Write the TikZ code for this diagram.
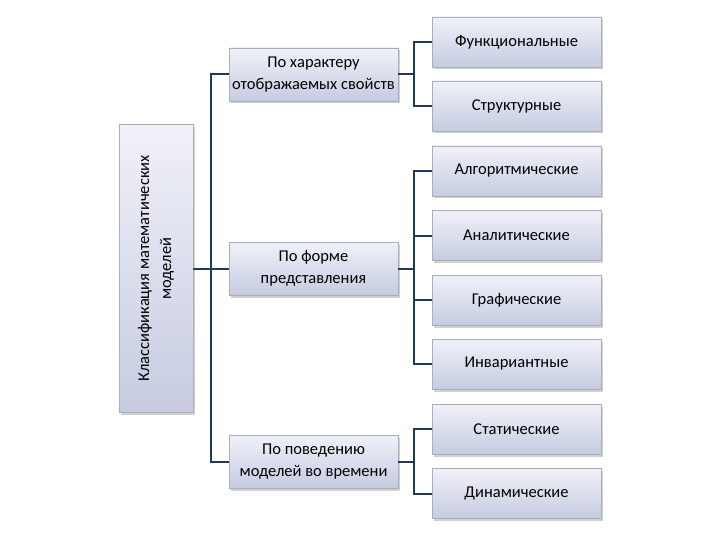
\documentclass[tikz,border=0pt]{standalone}
\usepackage{fontspec}
\setmainfont{Carlito}
\usetikzlibrary{shadows}

\definecolor{boxtop}{HTML}{F0F1F8}
\definecolor{boxbot}{HTML}{C6CBE1}
\definecolor{boxline}{HTML}{A9AEBD}
\definecolor{linkcol}{HTML}{1F3A57}

\tikzset{
    box/.style={draw=boxline, line width=0.8pt, top color=boxtop, bottom color=boxbot,
        drop shadow={shadow xshift=2pt, shadow yshift=-2.5pt, opacity=0.3, fill=black!60},
        align=center, inner sep=2pt, font=\fontsize{16.5}{22}\selectfont},
    midbox/.style={box, minimum width=169pt, minimum height=53pt},
    leafbox/.style={box, minimum width=169pt, minimum height=50pt},
    link/.style={draw=linkcol, line width=2pt}
}

\begin{document}
\begin{tikzpicture}[x=1pt, y=-1pt]
    \useasboundingbox (0,0) rectangle (720,540);

    % root
    \node[box, rotate=90, minimum width=288pt, minimum height=74pt] (main) at (156,268.5)
        {Классификация математических\\моделей};

    % second level
    \node[midbox] (char)  at (313.5,74.5) {По характеру\\отображаемых свойств};
    \node[midbox] (form)  at (313.5,268.5) {По форме\\представления};
    \node[midbox] (behav) at (313.5,461.5) {По поведению\\моделей во времени};

    % leaves
    \node[leafbox] (func)   at (516.5,42)  {Функциональные};
    \node[leafbox] (struct) at (516.5,106) {Структурные};
    \node[leafbox] (algo)   at (516.5,171) {Алгоритмические};
    \node[leafbox] (anal)   at (516.5,235.5) {Аналитические};
    \node[leafbox] (graph)  at (516.5,300) {Графические};
    \node[leafbox] (inv)    at (516.5,364) {Инвариантные};
    \node[leafbox] (stat)   at (516.5,429) {Статические};
    \node[leafbox] (dyn)    at (516.5,493.5) {Динамические};

    \coordinate (rootbus) at (211,268.5);
    \coordinate (charbus) at (414,74.5);
    \coordinate (formbus) at (414,268.5);
    \coordinate (behavbus) at (414,461.5);

    % root links
    \draw[link] (main.south) -- (form.west);
    \draw[link] (char.west) -| (rootbus) |- (behav.west);

    % leaf links
    \draw[link] (char.east) -- (charbus);
    \draw[link] (func.west) -| (charbus) |- (struct.west);

    \draw[link] (form.east) -- (formbus);
    \draw[link] (algo.west) -| (formbus) |- (inv.west);
    \draw[link] (anal.west) -- (anal.west -| formbus);
    \draw[link] (graph.west) -- (graph.west -| formbus);

    \draw[link] (behav.east) -- (behavbus);
    \draw[link] (stat.west) -| (behavbus) |- (dyn.west);
\end{tikzpicture}
\end{document}
